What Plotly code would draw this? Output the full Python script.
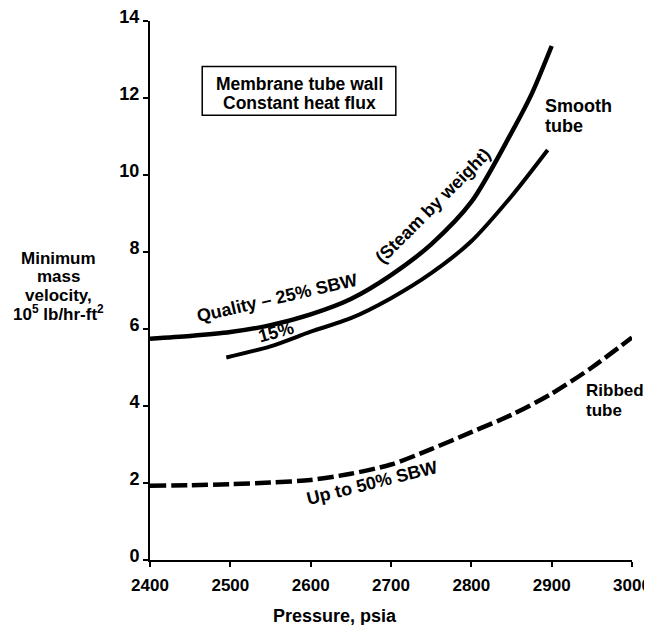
import plotly.graph_objects as go

# ---- data ----
pressure_q25 = [2400, 2450, 2500, 2550, 2600, 2650, 2700, 2750, 2800, 2850, 2875, 2900]
velocity_q25 = [5.75, 5.82, 5.92, 6.10, 6.38, 6.78, 7.40, 8.20, 9.30, 11.10, 12.10, 13.35]

pressure_q15 = [2495, 2550, 2600, 2650, 2700, 2750, 2800, 2850, 2895]
velocity_q15 = [5.26, 5.55, 5.93, 6.28, 6.80, 7.45, 8.28, 9.45, 10.65]

pressure_ribbed = [2400, 2450, 2500, 2550, 2600, 2650, 2700, 2750, 2800, 2850, 2900, 2950, 3000]
velocity_ribbed = [1.93, 1.94, 1.97, 2.01, 2.08, 2.24, 2.48, 2.88, 3.32, 3.77, 4.32, 5.00, 5.78]

x_ticks = [2400, 2500, 2600, 2700, 2800, 2900, 3000]
y_ticks = [0, 2, 4, 6, 8, 10, 12, 14]

FONT = "Liberation Sans"

fig = go.Figure()
fig.add_trace(go.Scatter(x=pressure_q25, y=velocity_q25, mode="lines",
                         line=dict(color="black", width=4.5, shape="spline", smoothing=0.8),
                         showlegend=False, hoverinfo="skip"))
fig.add_trace(go.Scatter(x=pressure_q15, y=velocity_q15, mode="lines",
                         line=dict(color="black", width=4, shape="spline", smoothing=0.8),
                         showlegend=False, hoverinfo="skip"))
fig.add_trace(go.Scatter(x=pressure_ribbed, y=velocity_ribbed, mode="lines",
                         line=dict(color="black", width=4.5, shape="spline", smoothing=0.8,
                                   dash="16px,5px"),
                         showlegend=False, hoverinfo="skip"))

def txt(s, x, y, size=18, angle=0, xref="x", yref="y", xanchor="center", align="center", bold=True):
    fig.add_annotation(text=f"<b>{s}</b>" if bold else s, x=x, y=y, xref=xref, yref=yref,
                       showarrow=False, textangle=angle, xanchor=xanchor, yanchor="middle",
                       align=align, font=dict(family=FONT, size=size, color="black"))

# Box
fig.add_shape(type="rect", xref="x", yref="y", x0=2465, x1=2706, y0=11.55, y1=12.82,
              line=dict(color="black", width=1.5), fillcolor="white")
txt("Membrane tube wall", 2585.5, 12.36, size=17.5)
txt("Constant heat flux", 2585.5, 11.86, size=17.5)

# Curve labels
txt("Quality – 25% SBW", 2558, 6.80, angle=-13)
txt("(Steam by weight)", 2752, 9.20, angle=-45)
txt("15%", 2557, 5.92, angle=-15)
txt("Up to 50% SBW", 2676, 2.0, angle=-14)
txt("Smooth", 2889, 11.79, xanchor="left")
txt("tube", 2889, 11.27, xanchor="left")
txt("Ribbed", 2940, 4.40, xanchor="left", size=17)
txt("tube", 2940, 3.88, xanchor="left", size=17)

# Y axis title (lines)
ytitle = ["Minimum", "mass", "velocity,", "10<sup>5</sup> lb/hr-ft<sup>2</sup>"]
ypos = [7.84, 7.37, 6.88, 6.41]
for s, yy in zip(ytitle, ypos):
    txt(s, -0.19, yy, size=17, xref="paper")

# X axis title
fig.add_annotation(text="<b>Pressure, psia</b>", x=2630, y=-0.104, xref="x", yref="paper",
                   showarrow=False, xanchor="center", yanchor="middle",
                   font=dict(family=FONT, size=18, color="black"))

axis_common = dict(showgrid=False, zeroline=False, showline=True, linecolor="black",
                   linewidth=2, ticks="outside", ticklen=5, tickwidth=1.5, tickcolor="black",
                   ticklabeloverflow="allow", automargin=False)

fig.update_xaxes(range=[2400, 3000], tickvals=x_ticks, ticklabelstandoff=4,
                 tickfont=dict(family=FONT, size=17, color="black"),
                 ticktext=[f"<b>{v}</b>" for v in x_ticks], **axis_common)
fig.update_yaxes(range=[0, 14], tickvals=y_ticks,
                 tickfont=dict(family=FONT, size=18, color="black"),
                 ticktext=[f"<b>{v}</b>" for v in y_ticks], ticklabelshift=-4, **axis_common)

fig.update_layout(width=652, height=625, margin=dict(l=142, r=28, t=13, b=73, autoexpand=False),
                  plot_bgcolor="white", paper_bgcolor="white",
                  font=dict(family=FONT, color="black"))

fig.write_html("out.html")
